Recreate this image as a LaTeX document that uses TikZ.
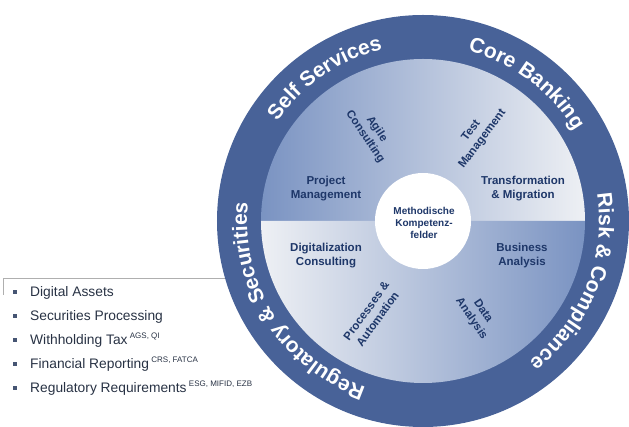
\documentclass[tikz,border=0pt]{standalone}
\usepackage{fontspec}
\setmainfont{Liberation Sans}
\usetikzlibrary{decorations.text}
\definecolor{ringblue}{RGB}{72,98,152}
\definecolor{txtblue}{RGB}{30,55,105}
\definecolor{softblue}{RGB}{122,147,194}
\definecolor{paleblue}{RGB}{238,240,244}
\definecolor{listgray}{RGB}{40,50,68}
\definecolor{dotgray}{RGB}{70,85,115}
\definecolor{linegray}{RGB}{175,175,175}
\newcommand{\ringfont}{\fontsize{21}{21}\selectfont\bfseries}
\newcommand{\supnote}[1]{\,{\fontsize{8}{9}\selectfont\raisebox{6.5pt}{#1}}}

\begin{document}
\begin{tikzpicture}[x=1pt, y=1pt, every node/.style={font=\fontsize{11.5}{14}\selectfont\bfseries, text=txtblue, align=center, inner sep=0pt}, ringtxt/.style={decorate, decoration={text along path, text align=center, text color=white, text={|\ringfont|#1}}}, item/.style={anchor=base west, font=\fontsize{13.8}{15}\selectfont, text=listgray}, dot/.style={fill=dotgray, minimum size=4pt}]
	\useasboundingbox (-423,-206) rectangle (206,221);
	% line above the list
	\coordinate (lbot) at (-420,-74);
	\coordinate (ltop) at (-420,-57);
	\coordinate (lend) at (-190,-57);
	\draw[linegray, line width=0.8pt] (lbot) -- (ltop) -- (lend);
	% wheel
	\fill[ringblue] (0,0) circle[radius=206];
	\shade[left color=softblue, right color=paleblue] (162,0) arc[start angle=0, end angle=180, radius=162] -- cycle;
	\shade[left color=paleblue, right color=softblue] (-162,0) arc[start angle=180, end angle=360, radius=162] -- cycle;
	\fill[white] (0,0) circle[radius=48];
	% ring labels
	\path[ringtxt={Self Services}] (174.5:176) arc[start angle=174.5, end angle=74.5, radius=176];
	\path[ringtxt={Core Banking}] (103:176) arc[start angle=103, end angle=3, radius=176];
	\path[ringtxt={Risk {\&} Compliance}] (48:176) arc[start angle=48, end angle=-92, radius=176];
	\path[ringtxt={Regulatory {\&} Securities}] (287.5:176) arc[start angle=287.5, end angle=137.5, radius=176];
	% inner labels
	\node[font=\fontsize{10}{12}\selectfont\bfseries] (core) at (1,-2) {Methodische\\Kompetenz-\\felder};
	\node (pm) at (-97,32) {Project\\Management};
	\node (tm) at (100,32) {Transformation\\\& Migration};
	\node (dc) at (-97,-35) {Digitalization\\Consulting};
	\node (ba) at (99,-35) {Business\\Analysis};
	\node[rotate=-56] (ac) at (-52,88) {Agile\\Consulting};
	\node[rotate=53] (tmg) at (54,86) {Test\\Management};
	\node[rotate=54] (pa) at (-51,-94) {Processes \&\\Automation};
	\node[rotate=-56] (da) at (54,-94) {Data\\Analysis};
	% list
	\foreach \entry [count=\i from 0] in {{Digital Assets}, {Securities Processing}, {Withholding Tax\supnote{AGS, QI}}, {Financial Reporting\supnote{CRS, FATCA}}, {Regulatory Requirements\supnote{ESG, MIFID, EZB}}}
	{
		\node[dot] (b\i) at (-408,-71-24*\i) {};
		\node[item] (t\i) at (-393,-76-24*\i) {\entry};
	}
\end{tikzpicture}
\end{document}
